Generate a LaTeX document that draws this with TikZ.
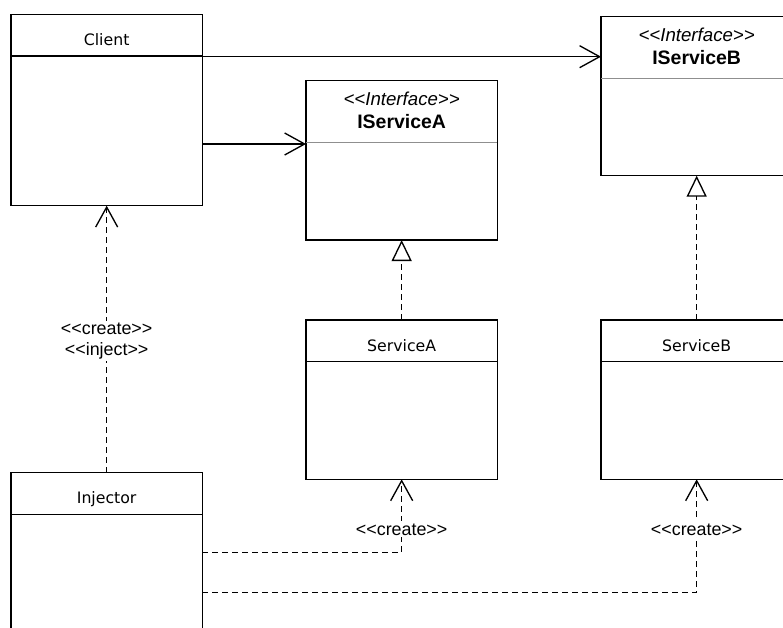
\documentclass[tikz,border=0pt]{standalone}
\usepackage{fontspec}
\setmainfont{DejaVu Sans}
\newfontfamily\helv{Liberation Sans}
\usetikzlibrary{arrows.meta,calc}
\definecolor{sepgray}{HTML}{8F8F8F}
% guillemet-free double angle brackets (the kern stops the TeX mapping)
\newcommand\stlt{<\kern0pt<}
\newcommand\stgt{>\kern0pt>}
\begin{document}
\begin{tikzpicture}[x=0.75pt,y=-0.75pt,
  classbox/.style={draw, line width=1.15pt, rectangle, anchor=north west,
    minimum width=143.5pt, inner sep=0pt, outer sep=0pt},
  cname/.style={font=\fontsize{11.8pt}{14pt}\selectfont, anchor=base, inner sep=0pt},
  stereo/.style={font=\helv\itshape\fontsize{14pt}{16pt}\selectfont, anchor=base, inner sep=0pt},
  iname/.style={font=\helv\bfseries\fontsize{14.6pt}{17pt}\selectfont, anchor=base, inner sep=0pt},
  sepline/.style={line width=1.15pt},
  graysep/.style={line width=1.15pt, draw=sepgray},
  assoc/.style={line width=1pt, -{Straight Barb[length=15pt,width=16.5pt]}},
  realize/.style={line width=1pt, dash pattern=on 4.5pt off 3pt,
    -{Triangle[open,length=15.75pt,width=15pt]}},
  dep/.style={line width=1pt, dash pattern=on 4.5pt off 3pt,
    -{Straight Barb[length=15pt,width=16.5pt]}},
  lbl/.style={font=\helv\fontsize{13.4pt}{16pt}\selectfont, fill=white,
    inner sep=1.5pt, align=center}]
\useasboundingbox (0,0) rectangle (783,628);
\clip (0,0) rectangle (783,628);

% classes
\node[classbox, minimum height=143.55pt] (client) at (11,14.3) {};
\node[classbox, minimum height=119.5pt] (iserva) at (306,80.7) {};
\node[classbox, minimum height=119.25pt] (iservb) at (601,16.7) {};
\node[classbox, minimum height=119.5pt] (serva) at (306,320) {};
\node[classbox, minimum height=119.5pt] (servb) at (601,320) {};
\node[classbox, minimum height=150pt] (injector) at (11,472.7) {};

% class headers
\foreach \b/\t in {client/Client, serva/ServiceA, servb/ServiceB, injector/Injector}{
  \draw[sepline] ($(\b.north west)+(0,41.7)$) -- ($(\b.north east)+(0,41.7)$);
  \node[cname] (\b-name) at ($(\b.north)+(0,31)$) {\t};
}
% interface headers
\foreach \b/\t in {iserva/IServiceA, iservb/IServiceB}{
  \node[stereo] (\b-stereo) at ($(\b.north)+(0,24.8)$) {\stlt Interface\stgt};
  \node[iname] (\b-name) at ($(\b.north)+(0,47.8)$) {\t};
  \draw[graysep] ($(\b.north west)+(0,62)$) -- ($(\b.north east)+(0,62)$);
}

% associations
\coordinate (c1) at ($(client.north east)+(0,42.4)$);
\draw[assoc] (c1) -- (c1 -| iservb.west);
\coordinate (c2) at ($(client.north east)+(0,129.7)$);
\draw[assoc] (c2) -- (c2 -| iserva.west);

% realizations
\draw[realize] (serva.north) -- (iserva.south);
\draw[realize] (servb.north) -- (iservb.south);

% dependencies
\draw[dep] (injector.north) -- (client.south);
\coordinate (i1) at ($(injector.north east)+(0,79.6)$);
\draw[dep] (i1) -| (serva.south);
\coordinate (i2) at ($(injector.north east)+(0,120)$);
\draw[dep] (i2) -| (servb.south);

% dependency labels
\node[lbl] (injlbl) at ($(client.south)+(0,135.3)$) {\stlt create\stgt\\\stlt inject\stgt};
\node[lbl, anchor=base] (lbla) at ($(serva.south)+(0,55.7)$) {\stlt create\stgt};
\node[lbl, anchor=base] (lblb) at ($(servb.south)+(0,55.7)$) {\stlt create\stgt};
\end{tikzpicture}
\end{document}
